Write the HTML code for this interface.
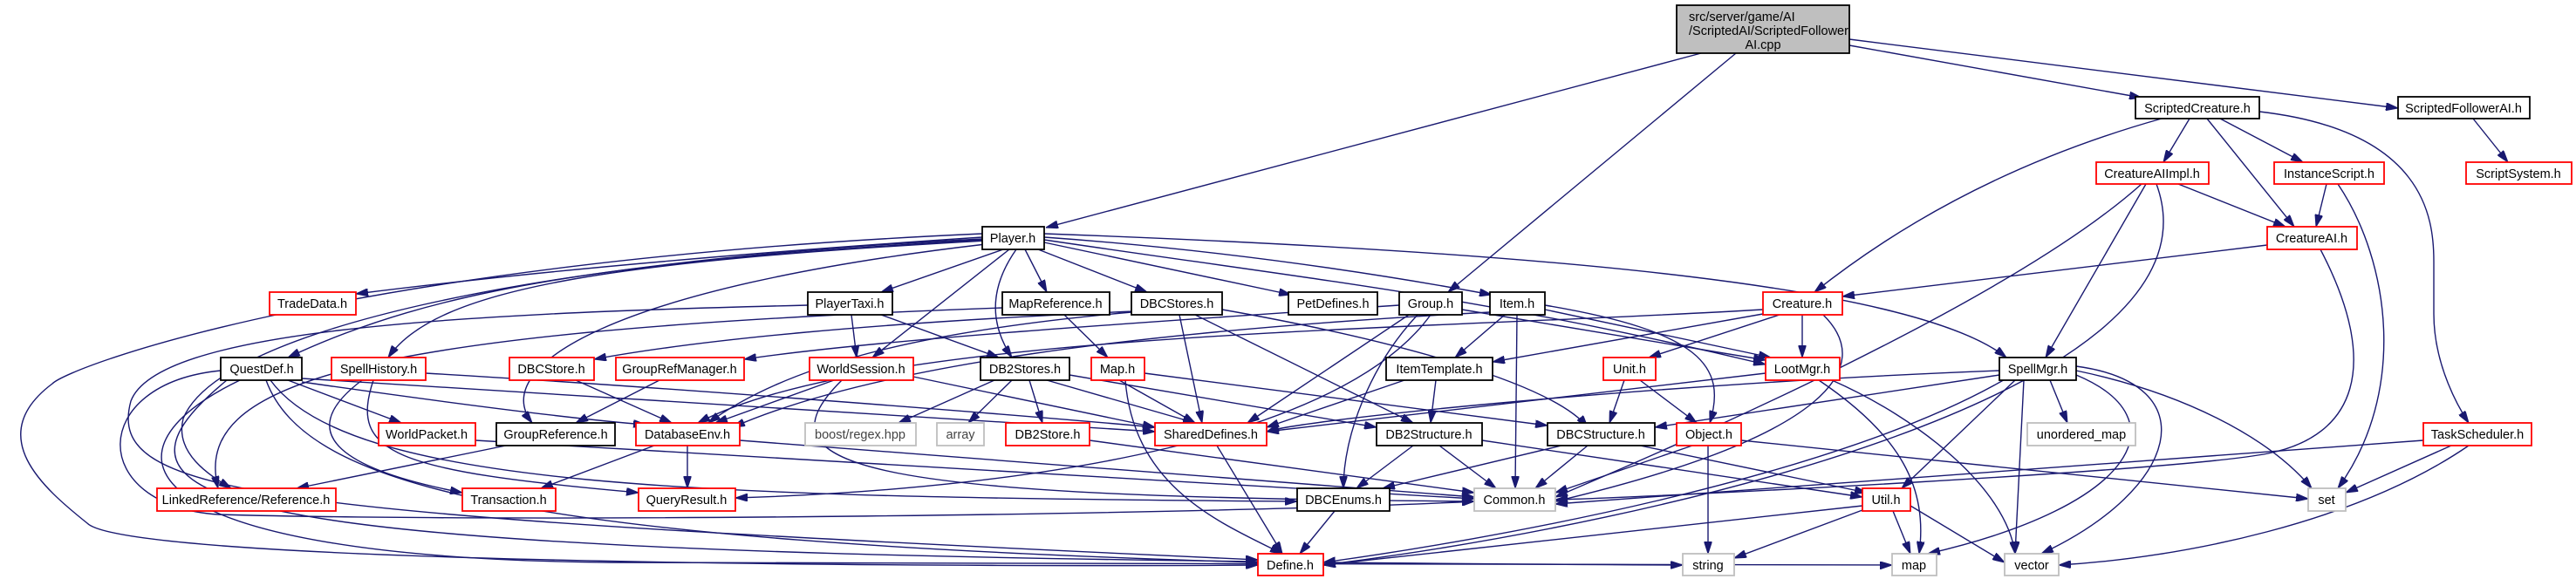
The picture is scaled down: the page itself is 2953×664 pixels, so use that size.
<!DOCTYPE html>
<html><head><meta charset="utf-8"><style>
html,body{margin:0;padding:0;background:#fff;}
svg{display:block;}
text{font-family:"Liberation Sans",sans-serif;font-size:14.5px;fill:#000;text-anchor:middle;}
.e{fill:none;stroke:#191970;stroke-width:1.4;marker-end:url(#a);}
.b{fill:#fff;stroke:#000;stroke-width:1.8;}
.r{fill:#fff;stroke:#ff0000;stroke-width:1.8;}
.g{fill:#fff;stroke:#bfbfbf;stroke-width:1.8;}
</style></head><body>
<svg width="2953" height="664" viewBox="0 0 2953 664" xmlns="http://www.w3.org/2000/svg">
<defs><marker id="a" markerUnits="userSpaceOnUse" markerWidth="14" markerHeight="9" refX="14" refY="4.5" orient="auto" viewBox="0 0 14 9"><path d="M0,0 L14,4.5 L0,9 z" fill="#191970" stroke="#191970"/></marker></defs>
<g>
<path class="e" d="M1950 61 L1199 261"/>
<path class="e" d="M1990 61 L1660 335"/>
<path class="e" d="M2120 52 L2455 112"/>
<path class="e" d="M2120 45 L2749 124"/>
<path class="e" d="M2835 136 L2875 186"/>
<path class="e" d="M2510 136 L2480 186"/>
<path class="e" d="M2530 136 L2630 260"/>
<path class="e" d="M2545 136 L2640 186"/>
<path class="e" d="M2478 136 Q2250 200 2080 335"/>
<path class="e" d="M2590 128 C2780 150 2790 250 2790 300 L2790 360 C2790 420 2820 470 2830 485"/>
<path class="e" d="M2497 211 L2620 260"/>
<path class="e" d="M2667 211 L2655 260"/>
<path class="e" d="M2680 211 C2740 300 2760 450 2680 560"/>
<path class="e" d="M2460 211 L2345 410"/>
<path class="e" d="M2455 211 C2300 350 1900 520 1783 570"/>
<path class="e" d="M2472 211 C2560 450 1900 600 1517 648"/>
<path class="e" d="M2599 281 L2112 340"/>
<path class="e" d="M2660 286 C2730 420 2700 500 2600 520 S1900 570 1783 573"/>
<path class="e" d="M2066 361 L2066 410"/>
<path class="e" d="M2040 361 L1890 410"/>
<path class="e" d="M2021 360 L1711 415"/>
<path class="e" d="M2090 361 C2150 420 2100 500 1783 575"/>
<path class="e" d="M2021 355 C1600 380 1000 380 800 485"/>
<path class="e" d="M2778 505 L1783 578"/>
<path class="e" d="M2810 511 L2689 565"/>
<path class="e" d="M2830 511 C2700 600 2500 640 2360 648"/>
<path class="e" d="M2292 425 C1900 440 1500 480 1452 495"/>
<path class="e" d="M2292 430 L1897 490"/>
<path class="e" d="M2350 436 L2370 485"/>
<path class="e" d="M2380 425 C2500 450 2600 500 2650 560"/>
<path class="e" d="M2380 430 C2500 480 2450 580 2210 635"/>
<path class="e" d="M2380 420 C2530 440 2500 560 2340 635"/>
<path class="e" d="M2310 436 L2180 560"/>
<path class="e" d="M2300 434 C2100 550 1700 620 1517 645"/>
<path class="e" d="M2320 436 L2310 635"/>
<path class="e" d="M1126 272 Q700 300 408 337"/>
<path class="e" d="M1126 275 C700 300 500 330 330 410"/>
<path class="e" d="M1130 276 C700 300 500 330 445 410"/>
<path class="e" d="M1130 280 C700 330 560 420 610 485"/>
<path class="e" d="M1150 286 L1010 335"/>
<path class="e" d="M1157 286 L1000 410"/>
<path class="e" d="M1165 286 Q1120 350 1160 410"/>
<path class="e" d="M1175 286 L1200 335"/>
<path class="e" d="M1190 286 L1315 335"/>
<path class="e" d="M1197 278 L1480 338"/>
<path class="e" d="M1197 272 Q1450 290 1710 338"/>
<path class="e" d="M1197 268 C1800 290 2200 330 2300 410"/>
<path class="e" d="M1197 275 C1500 320 1700 340 2024 418"/>
<path class="e" d="M1126 268 C400 300 80 420 60 440 C-20 500 50 560 100 600 C150 650 1200 650 1442 648"/>
<path class="e" d="M1126 274 C600 300 250 380 210 480 C200 520 240 545 265 560"/>
<path class="e" d="M976 361 L982 410"/>
<path class="e" d="M1010 361 L1145 410"/>
<path class="e" d="M926 350 C500 360 180 380 150 460 C120 570 300 590 1442 642"/>
<path class="e" d="M1220 361 L1270 410"/>
<path class="e" d="M1149 353 C400 380 220 440 250 560"/>
<path class="e" d="M1352 361 L1378 485"/>
<path class="e" d="M1370 361 L1620 485"/>
<path class="e" d="M1297 358 C1050 380 900 420 812 485"/>
<path class="e" d="M1401 355 C1600 390 1780 440 1820 490"/>
<path class="e" d="M1300 357 C1000 370 800 390 681 412"/>
<path class="e" d="M1604 350 C1300 370 1000 390 853 412"/>
<path class="e" d="M1625 361 C1570 420 1540 500 1540 560"/>
<path class="e" d="M1615 361 L1430 485"/>
<path class="e" d="M1640 361 C1540 500 1200 560 843 571"/>
<path class="e" d="M1676 355 L2024 413"/>
<path class="e" d="M1725 361 L1668 410"/>
<path class="e" d="M1739 361 L1737 560"/>
<path class="e" d="M1771 355 L2030 410"/>
<path class="e" d="M1771 350 C1950 380 1980 420 1960 485"/>
<path class="e" d="M1708 358 C1300 380 1000 420 840 490"/>
<path class="e" d="M1646 436 L1640 485"/>
<path class="e" d="M1610 436 L1452 490"/>
<path class="e" d="M1862 436 L1845 485"/>
<path class="e" d="M1880 436 L1945 485"/>
<path class="e" d="M2024 428 L1452 495"/>
<path class="e" d="M2085 436 C2180 500 2210 560 2200 635"/>
<path class="e" d="M2100 436 C2200 480 2300 560 2310 635"/>
<path class="e" d="M346 434 L1324 495"/>
<path class="e" d="M346 438 C500 460 650 480 740 487"/>
<path class="e" d="M330 436 L460 485"/>
<path class="e" d="M305 436 C350 560 600 620 1442 645"/>
<path class="e" d="M253 425 C100 440 100 580 250 590 C600 600 1400 590 1690 575"/>
<path class="e" d="M310 436 C400 560 800 570 1487 575"/>
<path class="e" d="M275 436 C100 520 150 640 700 645 C1500 650 2000 652 2169 648"/>
<path class="e" d="M260 436 C60 600 300 640 1929 648"/>
<path class="e" d="M488 428 C700 440 1100 470 1324 490"/>
<path class="e" d="M415 436 C330 500 400 540 530 565"/>
<path class="e" d="M428 436 C400 520 450 540 732 565"/>
<path class="e" d="M660 436 L770 485"/>
<path class="e" d="M756 436 L660 485"/>
<path class="e" d="M580 511 L340 560"/>
<path class="e" d="M788 511 L788 560"/>
<path class="e" d="M750 511 L620 560"/>
<path class="e" d="M848 505 L1690 570"/>
<path class="e" d="M956 436 L820 485"/>
<path class="e" d="M1047 432 L1324 490"/>
<path class="e" d="M965 436 C860 540 1000 570 1690 575"/>
<path class="e" d="M545 505 L1690 572"/>
<path class="e" d="M1140 436 L1030 485"/>
<path class="e" d="M1160 436 L1110 485"/>
<path class="e" d="M1180 436 L1195 485"/>
<path class="e" d="M1200 436 L1370 485"/>
<path class="e" d="M1226 430 L1578 490"/>
<path class="e" d="M1283 436 L1370 485"/>
<path class="e" d="M1290 436 C1300 560 1400 600 1470 635"/>
<path class="e" d="M1312 428 L1774 488"/>
<path class="e" d="M1395 511 L1470 635"/>
<path class="e" d="M1249 505 L1690 565"/>
<path class="e" d="M1620 511 L1555 560"/>
<path class="e" d="M1650 511 L1715 560"/>
<path class="e" d="M1699 505 L2135 570"/>
<path class="e" d="M1790 511 L1585 560"/>
<path class="e" d="M1820 511 L1760 560"/>
<path class="e" d="M1880 511 L2140 565"/>
<path class="e" d="M1940 511 L1783 565"/>
<path class="e" d="M1958 511 L1958 635"/>
<path class="e" d="M1996 505 L2646 572"/>
<path class="e" d="M1530 586 L1490 635"/>
<path class="e" d="M2135 580 L1517 648"/>
<path class="e" d="M2135 585 L1988 640"/>
<path class="e" d="M2170 586 L2190 635"/>
<path class="e" d="M2190 580 L2298 645"/>
</g>
<g>
<rect x="1922" y="6" width="198" height="55" fill="#bfbfbf" stroke="#000" stroke-width="1.8"/>
<text x="1936" y="24" style="text-anchor:start">src/server/game/AI</text>
<text x="1936" y="40" style="text-anchor:start">/ScriptedAI/ScriptedFollower</text>
<text x="2021" y="56">AI.cpp</text>

<rect class="b" x="1126" y="260" width="71" height="26"/><text x="1161" y="278">Player.h</text>
<rect class="b" x="2448" y="111" width="142" height="25"/><text x="2519" y="129">ScriptedCreature.h</text>
<rect class="b" x="2749" y="111" width="151" height="25"/><text x="2824" y="129">ScriptedFollowerAI.h</text>
<rect class="r" x="2403" y="186" width="129" height="25"/><text x="2467" y="204">CreatureAIImpl.h</text>
<rect class="r" x="2607" y="186" width="126" height="25"/><text x="2670" y="204">InstanceScript.h</text>
<rect class="r" x="2827" y="186" width="121" height="25"/><text x="2887" y="204">ScriptSystem.h</text>
<rect class="r" x="2599" y="260" width="103" height="26"/><text x="2650" y="278">CreatureAI.h</text>

<rect class="r" x="309" y="335" width="99" height="26"/><text x="358" y="353">TradeData.h</text>
<rect class="b" x="926" y="335" width="97" height="26"/><text x="974" y="353">PlayerTaxi.h</text>
<rect class="b" x="1149" y="335" width="123" height="26"/><text x="1210" y="353">MapReference.h</text>
<rect class="b" x="1297" y="335" width="104" height="26"/><text x="1349" y="353">DBCStores.h</text>
<rect class="b" x="1477" y="335" width="102" height="26"/><text x="1528" y="353">PetDefines.h</text>
<rect class="b" x="1604" y="335" width="72" height="26"/><text x="1640" y="353">Group.h</text>
<rect class="b" x="1708" y="335" width="63" height="26"/><text x="1739" y="353">Item.h</text>
<rect class="r" x="2021" y="335" width="91" height="26"/><text x="2066" y="353">Creature.h</text>

<rect class="b" x="253" y="410" width="93" height="26"/><text x="300" y="428">QuestDef.h</text>
<rect class="r" x="380" y="410" width="108" height="26"/><text x="434" y="428">SpellHistory.h</text>
<rect class="r" x="584" y="410" width="97" height="26"/><text x="632" y="428">DBCStore.h</text>
<rect class="r" x="706" y="410" width="147" height="26"/><text x="779" y="428">GroupRefManager.h</text>
<rect class="r" x="928" y="410" width="119" height="26"/><text x="987" y="428">WorldSession.h</text>
<rect class="b" x="1124" y="410" width="102" height="26"/><text x="1175" y="428">DB2Stores.h</text>
<rect class="r" x="1251" y="410" width="61" height="26"/><text x="1281" y="428">Map.h</text>
<rect class="b" x="1589" y="410" width="122" height="26"/><text x="1650" y="428">ItemTemplate.h</text>
<rect class="r" x="1838" y="410" width="60" height="26"/><text x="1868" y="428">Unit.h</text>
<rect class="r" x="2024" y="410" width="85" height="26"/><text x="2066" y="428">LootMgr.h</text>
<rect class="b" x="2292" y="410" width="88" height="26"/><text x="2336" y="428">SpellMgr.h</text>

<rect class="r" x="434" y="485" width="111" height="26"/><text x="489" y="503">WorldPacket.h</text>
<rect class="b" x="569" y="485" width="136" height="26"/><text x="637" y="503">GroupReference.h</text>
<rect class="r" x="729" y="485" width="119" height="26"/><text x="788" y="503">DatabaseEnv.h</text>
<rect class="g" x="923" y="485" width="127" height="26"/><text x="986" y="503" style="fill:#444">boost/regex.hpp</text>
<rect class="g" x="1074" y="485" width="54" height="26"/><text x="1101" y="503" style="fill:#444">array</text>
<rect class="r" x="1153" y="485" width="96" height="26"/><text x="1201" y="503">DB2Store.h</text>
<rect class="r" x="1324" y="485" width="128" height="26"/><text x="1388" y="503">SharedDefines.h</text>
<rect class="b" x="1578" y="485" width="121" height="26"/><text x="1638" y="503">DB2Structure.h</text>
<rect class="b" x="1774" y="485" width="123" height="26"/><text x="1835" y="503">DBCStructure.h</text>
<rect class="r" x="1922" y="485" width="74" height="26"/><text x="1959" y="503">Object.h</text>
<rect class="g" x="2324" y="485" width="124" height="26"/><text x="2386" y="503">unordered_map</text>
<rect class="r" x="2778" y="485" width="124" height="26"/><text x="2840" y="503">TaskScheduler.h</text>

<rect class="r" x="180" y="560" width="205" height="26"/><text x="282" y="578">LinkedReference/Reference.h</text>
<rect class="r" x="530" y="560" width="107" height="26"/><text x="583" y="578">Transaction.h</text>
<rect class="r" x="732" y="560" width="111" height="26"/><text x="787" y="578">QueryResult.h</text>
<rect class="b" x="1487" y="560" width="106" height="26"/><text x="1540" y="578">DBCEnums.h</text>
<rect class="g" x="1690" y="560" width="93" height="26"/><text x="1736" y="578">Common.h</text>
<rect class="r" x="2135" y="560" width="55" height="26"/><text x="2162" y="578">Util.h</text>
<rect class="g" x="2646" y="560" width="43" height="26"/><text x="2667" y="578">set</text>

<rect class="r" x="1442" y="635" width="75" height="25"/><text x="1479" y="653">Define.h</text>
<rect class="g" x="1929" y="635" width="59" height="25"/><text x="1958" y="653">string</text>
<rect class="g" x="2169" y="635" width="51" height="25"/><text x="2194" y="653">map</text>
<rect class="g" x="2298" y="635" width="62" height="25"/><text x="2329" y="653">vector</text>
</g>
</svg>
</body></html>
